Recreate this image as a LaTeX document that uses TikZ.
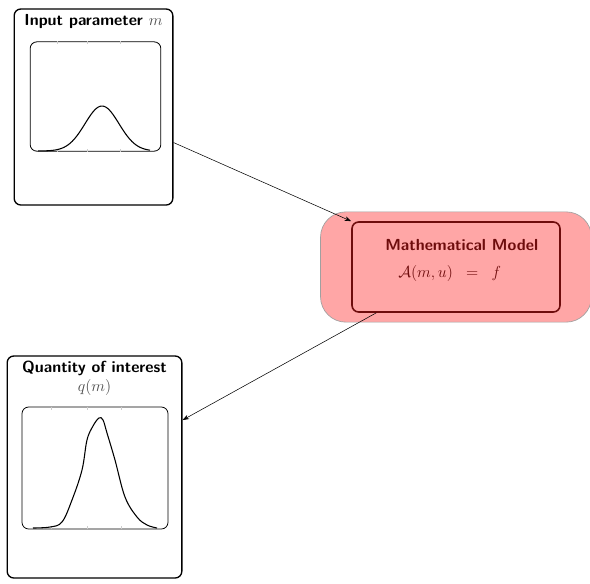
\documentclass[tikz,border=0pt]{standalone}
\usepackage{amsmath,amssymb}
\usepackage{xcolor}
\usetikzlibrary{arrows.meta,positioning,calc,fit,backgrounds}
\definecolor{modelfill}{RGB}{255,166,166}
\definecolor{modeldark}{RGB}{110,12,12}
\definecolor{framegray}{RGB}{160,160,160}
\definecolor{tickgray}{RGB}{205,205,205}

\begin{document}
\begin{tikzpicture}[
  x=0.75pt, y=-0.75pt,
  font=\sffamily\bfseries\large,
  >={Stealth[length=5pt,width=3.5pt]},
  every node/.style={align=center},
  panelbox/.style={rectangle, rounded corners=5pt,
    draw=black, line width=1pt, inner sep=0pt},
  plotbox/.style={rectangle, rounded corners=5pt,
    draw=black, line width=0.6pt, inner sep=0pt},
  modelbox/.style={rectangle, rounded corners=5pt,
    draw=modeldark, line width=1.2pt, inner sep=0pt,
    minimum width=156pt, minimum height=67.5pt},
  modelcloud/.style={rectangle, rounded corners=19pt,
    draw=framegray, fill=modelfill, line width=0.5pt},
  modeltext/.style={text=modeldark, align=left, inner sep=0pt},
  curveline/.style={line width=0.8pt, black},
  tickmark/.style={tickgray, line width=0.4pt},
  arr/.style={->, thin, black},
]

\useasboundingbox (0,0) rectangle (590,583);

% Input parameter panel
\node[panelbox, minimum width=119pt, minimum height=147pt] (inpanel) at (93.5,107) {};
\node[below=1pt of inpanel.north] (intitle) {Input parameter \textcolor{black!70}{$m$}};
\node[plotbox, minimum width=98pt, minimum height=82pt] (inplot) at (95.5,96.5) {};
\foreach \f in {0.21,0.44,0.69} {
  \draw[tickmark] ($(inplot.north west)!\f!(inplot.north east)$) -- ++(0,3);
  \draw[tickmark] ($(inplot.south west)!\f!(inplot.south east)$) -- ++(0,-3);
}
\draw[curveline] plot[domain=38:150, samples=70, smooth]
  (\x, {151-45*exp(-((\x-102)*(\x-102))/578)});

% Mathematical model
\node[modelbox] (model) at (456,267) {};
\begin{scope}[on background layer]
  \node[modelcloud, fit=(model), inner xsep=23pt, inner ysep=7pt] (cloud) {};
\end{scope}
\node[modeltext, anchor=base west] (modeltitle) at (385,250) {Mathematical Model};
\node[modeltext, anchor=base west] (modeleq) at (398,277) {$\mathcal{A}(m,u)\;\;=\;\;f$};

% Quantity of interest panel
\node[panelbox, minimum width=131pt, minimum height=166.5pt] (qpanel) at (94.5,467) {};
\node[below=1pt of qpanel.north] (qtitle)
  {Quantity of interest\\ \textcolor{black!70}{$q(m)$}};
\node[plotbox, minimum width=109.5pt, minimum height=91.5pt] (qplot) at (95,468) {};
\foreach \f in {0.2,0.45,0.68} {
  \draw[tickmark] ($(qplot.north west)!\f!(qplot.north east)$) -- ++(0,3);
  \draw[tickmark] ($(qplot.south west)!\f!(qplot.south east)$) -- ++(0,-3);
}
\draw[curveline] plot[smooth, tension=0.6] coordinates {
  (33,528) (50,527) (62,522) (72,500) (82,470) (87,440) (93,426)
  (99,418) (103,420) (107,433) (115,460) (125,497) (137,517)
  (147,525) (157,528)};

% Arrows
\draw[arr] ($(inpanel.south east)!0.32!(inpanel.north east)$) -- (model.north west);
\draw[arr] ($(model.south west)!0.12!(model.south east)$)
  -- ($(qpanel.south east)!0.71!(qpanel.north east)$);
\end{tikzpicture}
\end{document}
